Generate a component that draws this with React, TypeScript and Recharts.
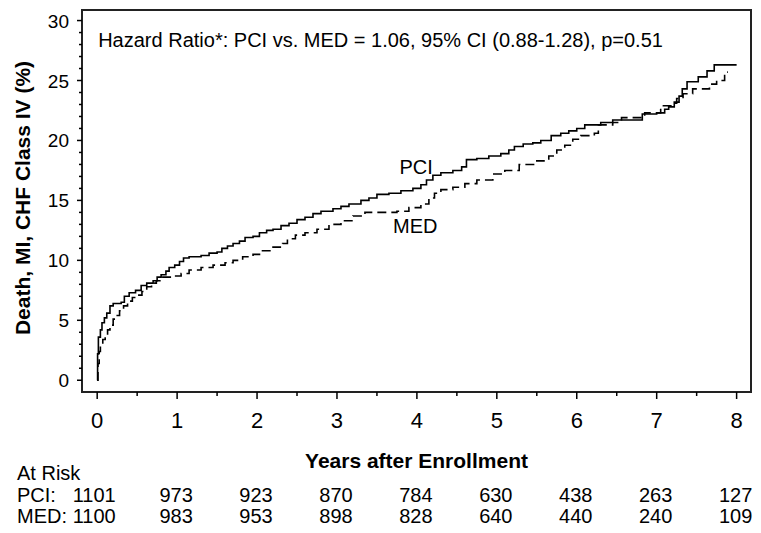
import React from 'react';
import { LineChart, Line, XAxis, YAxis, ReferenceArea, ReferenceDot } from 'recharts';

const FONT = '"Liberation Sans", Arial, sans-serif';

// Kaplan-Meier estimates: [years, %]
const pciSteps = [
  [0, 0], [0.005, 2.2], [0.015, 3.6], [0.04, 4.2], [0.06, 4.8], [0.09, 5.2], [0.12, 5.6],
  [0.16, 6.2], [0.2, 6.4], [0.3, 6.5], [0.34, 7.0], [0.4, 7.3], [0.48, 7.5], [0.55, 7.9],
  [0.62, 8.1], [0.7, 8.3], [0.75, 8.6], [0.8, 8.8], [0.86, 9.1], [0.9, 9.4], [0.97, 9.6],
  [1.03, 9.9], [1.08, 10.2], [1.15, 10.3], [1.3, 10.4], [1.4, 10.6], [1.5, 10.7], [1.56, 11.0],
  [1.63, 11.2], [1.7, 11.4], [1.78, 11.6], [1.85, 11.9], [1.95, 12.0], [2.03, 12.3], [2.12, 12.5],
  [2.2, 12.6], [2.3, 12.9], [2.4, 13.1], [2.5, 13.4], [2.6, 13.6], [2.7, 13.9], [2.8, 14.1],
  [2.95, 14.3], [3.05, 14.5], [3.15, 14.7], [3.3, 15.0], [3.4, 15.2], [3.5, 15.5], [3.65, 15.6],
  [3.8, 15.8], [3.95, 16.0], [4.05, 16.3], [4.12, 16.7], [4.2, 17.1], [4.3, 17.3], [4.45, 17.5],
  [4.56, 17.8], [4.62, 18.4], [4.75, 18.5], [4.9, 18.7], [5.05, 18.9], [5.15, 19.2], [5.22, 19.5],
  [5.33, 19.7], [5.45, 19.8], [5.55, 20.0], [5.68, 20.4], [5.8, 20.6], [5.9, 20.8], [6.0, 21.0],
  [6.1, 21.3], [6.3, 21.5], [6.45, 21.7], [6.82, 22.2], [7.0, 22.3], [7.1, 22.6], [7.15, 22.8],
  [7.22, 23.2], [7.28, 23.7], [7.32, 24.3], [7.38, 24.9], [7.52, 25.3], [7.63, 25.8], [7.72, 26.3],
  [8.0, 26.3],
];

const medSteps = [
  [0, 0], [0.01, 1.4], [0.025, 2.4], [0.04, 2.9], [0.07, 3.4], [0.1, 3.8], [0.13, 4.2],
  [0.16, 4.6], [0.2, 5.1], [0.24, 5.4], [0.28, 5.8], [0.33, 6.2], [0.38, 6.6], [0.44, 6.9],
  [0.5, 7.1], [0.56, 7.4], [0.62, 7.8], [0.68, 8.1], [0.74, 8.3], [0.8, 8.6], [0.95, 8.7],
  [1.05, 8.9], [1.15, 9.2], [1.3, 9.4], [1.45, 9.6], [1.6, 9.8], [1.7, 10.0], [1.82, 10.3],
  [1.95, 10.5], [2.05, 10.8], [2.2, 11.1], [2.32, 11.4], [2.38, 11.8], [2.48, 12.1], [2.6, 12.3],
  [2.75, 12.6], [2.9, 13.0], [3.05, 13.3], [3.2, 13.7], [3.35, 14.0], [3.75, 14.1], [3.9, 14.4],
  [4.05, 14.7], [4.15, 15.2], [4.22, 15.6], [4.3, 15.9], [4.45, 16.1], [4.6, 16.4], [4.75, 16.7],
  [4.95, 17.2], [5.1, 17.5], [5.28, 18.0], [5.5, 18.3], [5.65, 18.7], [5.75, 19.2], [5.85, 19.6],
  [5.95, 20.1], [6.05, 20.4], [6.22, 20.6], [6.27, 21.3], [6.45, 21.5], [6.56, 21.9], [6.85, 22.3],
  [7.05, 22.9], [7.18, 23.1], [7.25, 23.5], [7.33, 23.9], [7.45, 24.3], [7.66, 24.7], [7.75, 25.0],
  [7.85, 25.7], [7.89, 25.7],
];

const xTicks = [0, 0.5, 1, 1.5, 2, 2.5, 3, 3.5, 4, 4.5, 5, 5.5, 6, 6.5, 7, 7.5, 8];
const yTicks = Array.from({ length: 31 }, (_, i) => i);
const yMajor = [0, 5, 10, 15, 20, 25, 30];

const atRiskPCI = [1101, 973, 923, 870, 784, 630, 438, 263, 127];
const atRiskMED = [1100, 983, 953, 898, 828, 640, 440, 240, 109];

const hazardText = 'Hazard Ratio*: PCI vs. MED = 1.06, 95% CI (0.88-1.28), p=0.51';

const X_DOMAIN = [-0.19, 8.18];
const Y_DOMAIN = [-0.98, 30.88];

const pciData = pciSteps.map(([t, v]) => ({ t, v }));
const medData = medSteps.map(([t, v]) => ({ t, v }));

// baselines of the at-risk rows, measured from the x axis line
const ROW_HEAD = 88;
const ROW_PCI = 109.5;
const ROW_MED = 130.5;

const XTick = (props: any) => {
  const { x, y, payload } = props;
  const val = payload.value;
  const major = Number.isInteger(val);
  const shift = val === 0 ? -3 : -1;
  return (
    <g>
      <line x1={x} x2={x} y1={y} y2={y + (major ? 7 : 4)} stroke="#000" strokeWidth={1.5} />
      {major && (
        <>
          <text x={x} y={y + 36} textAnchor="middle" fontSize={22} fontFamily={FONT} fill="#000">{val}</text>
          <text x={x + shift} y={y + ROW_PCI} textAnchor="middle" fontSize={20} fontFamily={FONT} fill="#000">{atRiskPCI[val]}</text>
          <text x={x + shift} y={y + ROW_MED} textAnchor="middle" fontSize={20} fontFamily={FONT} fill="#000">{atRiskMED[val]}</text>
        </>
      )}
    </g>
  );
};

const YTick = (props: any) => {
  const { x, y, payload } = props;
  const major = yMajor.includes(payload.value);
  return (
    <g>
      <line x1={x - (major ? 5 : 3)} x2={x} y1={y} y2={y} stroke="#000" strokeWidth={1.5} />
      {major && (
        <text x={x - 13} y={y + 7} textAnchor="end" fontSize={19} fontFamily={FONT} fill="#000">{payload.value}</text>
      )}
    </g>
  );
};

const XLabel = (props: any) => {
  const vb = props.viewBox;
  return (
    <g fontFamily={FONT} fill="#000">
      <text x={vb.x + vb.width / 2} y={vb.y + 76} textAnchor="middle" fontSize={21} fontWeight="bold">Years after Enrollment</text>
      <text x={17} y={vb.y + ROW_HEAD} fontSize={20}>At Risk</text>
      <text x={17} y={vb.y + ROW_PCI} fontSize={20}>PCI:</text>
      <text x={17} y={vb.y + ROW_MED} fontSize={20}>MED:</text>
    </g>
  );
};

const YLabel = (props: any) => {
  const vb = props.viewBox;
  const cx = 22;
  const cy = vb.y + vb.height / 2 - 3;
  return (
    <text x={cx} y={cy} transform={`rotate(-90 ${cx} ${cy})`} textAnchor="middle" dominantBaseline="central"
      fontSize={21} fontWeight="bold" fontFamily={FONT} fill="#000">
      Death, MI, CHF Class IV (%)
    </text>
  );
};

export default function App() {
  return (
    <div style={{ position: 'absolute', left: 0, top: 0, width: 761, height: 533, background: '#fff' }}>
      <LineChart width={761} height={533} margin={{ top: 10, right: 10, bottom: 0, left: 0 }}>
        <XAxis type="number" dataKey="t" domain={X_DOMAIN} ticks={xTicks} allowDataOverflow
          height={141} tickSize={0} tickMargin={0} tickLine={false} axisLine={false}
          tick={<XTick />} interval={0} label={{ content: <XLabel /> }} />
        <YAxis type="number" dataKey="v" domain={Y_DOMAIN} ticks={yTicks} allowDataOverflow
          width={82} tickSize={0} tickMargin={0} tickLine={false} axisLine={false}
          tick={<YTick />} interval={0} label={{ content: <YLabel /> }} />
        <ReferenceArea x1={X_DOMAIN[0]} x2={X_DOMAIN[1]} y1={Y_DOMAIN[0]} y2={Y_DOMAIN[1]}
          fill="none" fillOpacity={0} stroke="#222" strokeWidth={2} ifOverflow="visible" />
        <Line data={pciData} dataKey="v" type="stepAfter" stroke="#000" strokeWidth={1.6}
          dot={false} activeDot={false} isAnimationActive={false} />
        <Line data={medData} dataKey="v" type="stepAfter" stroke="#000" strokeWidth={1.6}
          strokeDasharray="9 5" dot={false} activeDot={false} isAnimationActive={false} />
        <ReferenceDot x={0} y={28.37} r={1} fill="none" stroke="none" ifOverflow="visible"
          label={{ value: hazardText, position: 'right', offset: 0, fontSize: 20, fontFamily: FONT, fill: '#000' }} />
        <ReferenceDot x={3.99} y={17.8} r={1} fill="none" stroke="none" ifOverflow="visible"
          label={{ value: 'PCI', position: 'center', fontSize: 20, fontFamily: FONT, fill: '#000' }} />
        <ReferenceDot x={3.98} y={12.86} r={1} fill="none" stroke="none" ifOverflow="visible"
          label={{ value: 'MED', position: 'center', fontSize: 20, fontFamily: FONT, fill: '#000' }} />
      </LineChart>
    </div>
  );
}
